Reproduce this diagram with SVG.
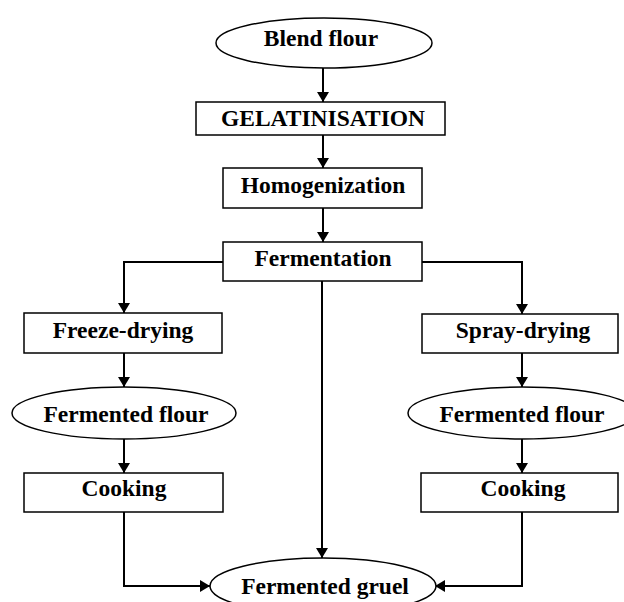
<svg xmlns="http://www.w3.org/2000/svg" width="624" height="602" viewBox="0 0 624 602">
<style>
.box{fill:#fff;stroke:#000;stroke-width:1.5}
.lbl{font-family:"Liberation Serif","Times New Roman",serif;font-weight:bold;font-size:23.5px;text-anchor:middle;fill:#000}
.con{fill:none;stroke:#000;stroke-width:2}
</style>
<defs>
<marker id="ah" markerWidth="10" markerHeight="12" refX="10" refY="6" orient="auto" markerUnits="userSpaceOnUse">
<path d="M0,0 L10,6 L0,12 Z" fill="#000"/>
</marker>
</defs>
<rect width="624" height="602" fill="#fff"/>
<g id="connectors">
<line class="con" x1="323" y1="68" x2="323" y2="102" marker-end="url(#ah)"/>
<line class="con" x1="323" y1="135" x2="323" y2="168" marker-end="url(#ah)"/>
<line class="con" x1="323" y1="208" x2="323" y2="242" marker-end="url(#ah)"/>
<polyline class="con" points="223,262 124,262 124,313" marker-end="url(#ah)"/>
<polyline class="con" points="422,262 522,262 522,314" marker-end="url(#ah)"/>
<line class="con" x1="322" y1="281" x2="322" y2="558" marker-end="url(#ah)"/>
<line class="con" x1="124" y1="353" x2="124" y2="387" marker-end="url(#ah)"/>
<line class="con" x1="522" y1="353" x2="522" y2="387" marker-end="url(#ah)"/>
<line class="con" x1="124" y1="439" x2="124" y2="473" marker-end="url(#ah)"/>
<line class="con" x1="522" y1="439" x2="522" y2="473" marker-end="url(#ah)"/>
<polyline class="con" points="124,512 124,586 210,586" marker-end="url(#ah)"/>
<polyline class="con" points="522,512 522,586 435,586" marker-end="url(#ah)"/>
</g>
<g id="blend-flour">
<ellipse class="box" cx="324" cy="43" rx="108" ry="25"/>
<text class="lbl" x="321" y="46">Blend flour</text>
</g>
<g id="gelatinisation">
<rect class="box" x="196" y="102" width="249" height="33"/>
<text class="lbl" x="323" y="126">GELATINISATION</text>
</g>
<g id="homogenization">
<rect class="box" x="223" y="168" width="199" height="40"/>
<text class="lbl" x="323" y="193">Homogenization</text>
</g>
<g id="fermentation">
<rect class="box" x="223" y="242" width="199" height="39"/>
<text class="lbl" x="323" y="266">Fermentation</text>
</g>
<g id="freeze-drying">
<rect class="box" x="24" y="313" width="198" height="40"/>
<text class="lbl" x="123" y="338">Freeze-drying</text>
</g>
<g id="spray-drying">
<rect class="box" x="422" y="314" width="196" height="39"/>
<text class="lbl" x="523" y="338">Spray-drying</text>
</g>
<g id="fermented-flour-left">
<ellipse class="box" cx="124" cy="413" rx="112" ry="26"/>
<text class="lbl" x="126" y="422">Fermented flour</text>
</g>
<g id="fermented-flour-right">
<ellipse class="box" cx="522" cy="413" rx="114" ry="26"/>
<text class="lbl" x="522" y="422">Fermented flour</text>
</g>
<g id="cooking-left">
<rect class="box" x="24" y="473" width="199" height="39"/>
<text class="lbl" x="124" y="496">Cooking</text>
</g>
<g id="cooking-right">
<rect class="box" x="421" y="473" width="197" height="39"/>
<text class="lbl" x="523" y="496">Cooking</text>
</g>
<g id="fermented-gruel">
<ellipse class="box" cx="323" cy="586" rx="113" ry="28"/>
<text class="lbl" x="325" y="594">Fermented gruel</text>
</g>
</svg>
